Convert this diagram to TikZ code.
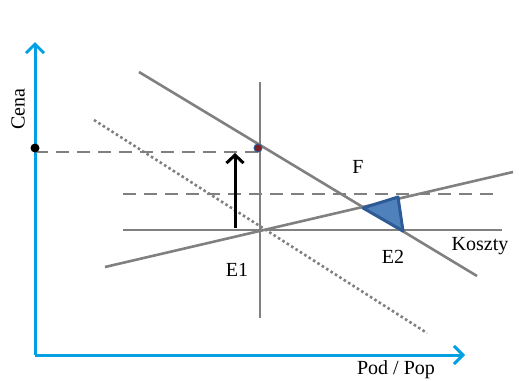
\documentclass[tikz,border=0pt]{standalone}
\usepackage{fontspec}
\setmainfont{Liberation Serif}
\usepackage{tikz}
\usetikzlibrary{arrows.meta,positioning,calc}
\usepackage{xcolor}
\definecolor{axisblue}{HTML}{00A0E3}
\definecolor{linegray}{HTML}{808080}
\definecolor{tribody}{HTML}{4F81BD}
\definecolor{triedge}{HTML}{2E5A96}
\definecolor{dotred}{HTML}{7F2020}

\begin{document}
\begin{tikzpicture}[x=1pt, y=-1pt, font=\fontsize{20}{24}\selectfont,
  curve/.style={linegray, line width=2.6pt},
  guide/.style={linegray, line width=2.8pt, dash pattern=on 13pt off 8pt}]
  \useasboundingbox (0,0) rectangle (519,380);
  % axes
  \coordinate (o) at (35,355);
  \draw[axisblue, line width=3pt, -{Straight Barb[length=9pt,width=18pt,line width=3pt]}] (o) -- (35,42);
  \draw[axisblue, line width=3pt, -{Straight Barb[length=9pt,width=18pt,line width=3pt]}] (o) -- (465,355);
  \node[rotate=90] (cena) at (18,109) {Cena};
  \node (podpop) at (396,370) {Pod / Pop};
  % price level and guides
  \coordinate (p) at (35,148);
  \coordinate (a) at (258,148);
  \draw[guide] (35,152) -- (258,152);
  \draw[guide] (123,194) -- (500,194);
  % curves
  \draw[curve] (260,82) -- (260,318);
  \draw[curve] (139,72) -- (477,276);
  \draw[curve, dash pattern=on 2.6pt off 2.6pt] (94,120) -- (427,333);
  \draw[curve] (123,230) -- (502,230);
  \draw[curve] (105,267) -- (513,172);
  % triangle
  \draw[triedge, fill=tribody, line width=3pt, line join=round] (363,208) -- (398,197) -- (403,231) -- cycle;
  % shift arrow
  \draw[black, line width=3pt, -{Straight Barb[length=8pt,width=17pt,line width=3pt]}] (235,228) -- (235,153);
  % points
  \fill[black] (p) circle (4.5pt);
  \draw[triedge, fill=dotred, line width=1pt] (a) circle (4pt);
  % labels
  \node (f) at (358,167) {F};
  \node (e1) at (237,270) {E1};
  \node (e2) at (393,257) {E2};
  \node (koszty) at (480,246) {Koszty};
\end{tikzpicture}
\end{document}
